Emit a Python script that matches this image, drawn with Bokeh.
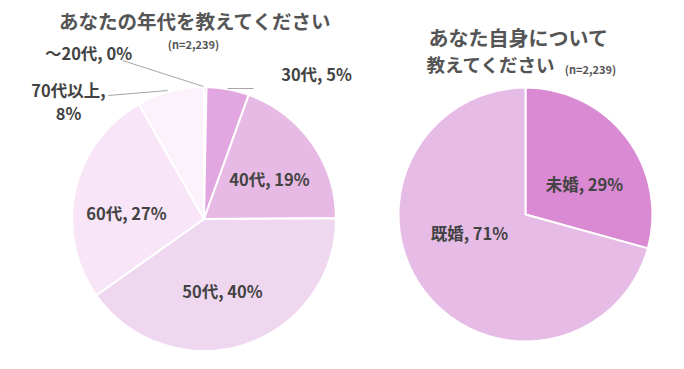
import math
from bokeh.plotting import figure
from bokeh.models import Range1d, ColumnDataSource
from bokeh.core.properties import value
from bokeh.embed import file_html
from bokeh.resources import INLINE

# ---- data ----
age_groups = ["～20代", "30代", "40代", "50代", "60代", "70代以上"]
age_share = [0.3, 5.2, 19.4, 40.3, 26.6, 8.2]
marital = ["未婚", "既婚"]
marital_share = [29.3, 70.7]
title_left = "あなたの年代を教えてください"
title_right_1 = "あなた自身について"
title_right_2 = "教えてください"
n_note = "(n=2,239)"

# ---- styles ----
age_colors = ["#d98bd0", "#e2a7e0", "#e6bae4", "#efd8ef", "#f8e6f8", "#fcf2fc"]
mar_colors = ["#da8ad2", "#e6bce6"]
FONT = value("Noto Sans CJK JP")
TXT = "#434343"
TITLE = "#555555"

W, H = 668, 353

p = figure(width=W, height=H, output_backend="svg", toolbar_location=None,
           x_range=Range1d(0, W), y_range=Range1d(0, H),
           min_border=0, outline_line_color=None)
p.axis.visible = False
p.grid.visible = False
p.background_fill_color = "white"
p.border_fill_color = "white"


def sy(y):
    return H - y


def pie(values, colors, cx, cy, r):
    tot = sum(values)
    starts, ends = [], []
    c = 0.0
    for v in values:
        starts.append(math.pi / 2 - 2 * math.pi * c / tot)
        c += v
        ends.append(math.pi / 2 - 2 * math.pi * c / tot)
    src = ColumnDataSource(dict(x=[cx] * len(values), y=[sy(cy)] * len(values),
                                s=starts, e=ends, c=colors))
    p.wedge(x="x", y="y", radius=r, start_angle="s", end_angle="e", direction="clock",
            fill_color="c", line_color="white", line_width=2, source=src)


pie(age_share, age_colors, 203.5, 218.5, 132)
pie(marital_share, mar_colors, 525, 214, 127)

age_labels = [f"{n}, {round(v)}%" for n, v in zip(age_groups, age_share)]
mar_labels = [f"{n}, {round(v)}%" for n, v in zip(marital, marital_share)]

# leader lines
for xs, ys in [([122, 203], [60, 86]), ([227, 253], [88, 88]), ([108, 167], [95, 90])]:
    p.line(xs, [sy(v) for v in ys], line_color="#a6a6a6", line_width=1)


def txt(x, y, s, size, color=TXT, align="center", bold=True):
    p.text(x=[x], y=[sy(y)], text=[s], text_font=FONT, text_font_size=f"{size}px",
           text_font_style="bold" if bold else "normal", text_color=color,
           text_align=align, text_baseline="middle")


# titles
txt(195, 20, title_left, 19.5, TITLE)
txt(193, 43, n_note, 11, TITLE)
txt(428, 37, title_right_1, 20, TITLE, align="left")
txt(426, 63, title_right_2, 18.5, TITLE, align="left")
txt(590, 68, n_note, 11, TITLE)

# age labels
LS = 16.5
txt(88, 52, age_labels[0], LS)
txt(316, 73, age_labels[1], LS)
txt(269, 178, age_labels[2], LS)
txt(222, 290, age_labels[3], LS)
txt(126, 212, age_labels[4], LS)
first, second = age_labels[5].split(" ")
txt(68, 89, first, LS)
txt(68, 112, second, LS)

# marital labels
txt(584, 183, mar_labels[0], LS)
txt(469, 232, mar_labels[1], LS)

open("out.html", "w").write(file_html(p, INLINE))
